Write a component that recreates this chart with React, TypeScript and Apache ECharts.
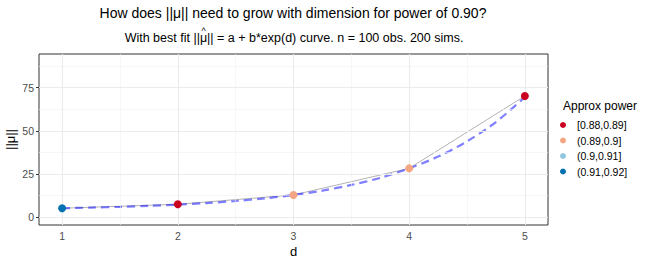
import React, { useEffect, useRef } from "react";
import * as echarts from "echarts";

// ---- data ----
const dims = [1, 2, 3, 4, 5];
const muNorm = [5.2, 7.5, 12.9, 28.3, 70.2];
const powerBin = ["(0.91,0.92]", "[0.88,0.89]", "(0.89,0.9]", "(0.89,0.9]", "[0.88,0.89]"];
const powerLevels = ["[0.88,0.89]", "(0.89,0.9]", "(0.9,0.91]", "(0.91,0.92]"];
const levelColors = ["#CA0020", "#F4A582", "#92C5DE", "#0571B0"];

// best-fit curve a + b*exp(d)
const fitD = [1, 1.25, 1.5, 1.75, 2, 2.25, 2.5, 2.75, 3, 3.25, 3.5, 3.75, 4, 4.25, 4.5, 4.75, 5];
const fitMu = [5.2, 5.6, 6.0, 6.6, 7.3, 8.2, 9.4, 10.9, 12.9, 15.4, 18.7, 22.8, 28.3, 35.1, 43.9, 55.1, 69.5];

// tick values
const xTicks = [1, 2, 3, 4, 5];
const xMinor = [1.5, 2.5, 3.5, 4.5];
const yTicks = [0, 25, 50, 75];
const yMinor = [12.5, 37.5, 62.5, 87.5];

const titleText = "How does ||\u03bc|| need to grow with dimension for power of 0.90?";
const subPrefix = "With best fit ||";
const subMu = "\u03bc";
const subSuffix = "|| = a + b*exp(d) curve. n = 100 obs. 200 sims.";
const hatText = "^";
const legendTitle = "Approx power";

const FONT = "'Liberation Sans', Arial, Helvetica, sans-serif";
const SUB_SIZE = 12.5;

function measure(text: string, size: number): number {
  const c = document.createElement("canvas").getContext("2d");
  if (!c) return text.length * size * 0.5;
  c.font = `${size}px ${FONT}`;
  return c.measureText(text).width;
}

export default function App() {
  const ref = useRef<HTMLDivElement>(null);
  useEffect(() => {
    if (!ref.current) return;
    const chart = echarts.init(ref.current, undefined, { renderer: "svg" });

    const gridLines = [
      ...xMinor.map((v) => ({ xAxis: v, lineStyle: { color: "#F2F2F2", width: 0.6, type: "solid" } })),
      ...yMinor.map((v) => ({ yAxis: v, lineStyle: { color: "#F2F2F2", width: 0.6, type: "solid" } })),
      ...xTicks.map((v) => ({ xAxis: v, lineStyle: { color: "#EBEBEB", width: 1.1, type: "solid" } })),
      ...yTicks.map((v) => ({ yAxis: v, lineStyle: { color: "#EBEBEB", width: 1.1, type: "solid" } })),
    ];

    const scatterSeries = powerLevels.map((lvl, li) => ({
      type: "scatter",
      name: lvl,
      z: 5,
      symbolSize: 8,
      itemStyle: { color: levelColors[li], opacity: 1 },
      data: dims
        .map((d, i) => (powerBin[i] === lvl ? [d, muNorm[i]] : null))
        .filter((p) => p !== null),
    }));

    const txt = (text: string, x: number, y: number, size: number, align = "center") => ({
      type: "text",
      x,
      y,
      silent: true,
      style: {
        text,
        fontSize: size,
        fontFamily: FONT,
        fill: "#000",
        align,
        verticalAlign: "middle",
        textAlign: align,
        textVerticalAlign: "middle",
      },
    });

    // subtitle layout: place the hat over the mu
    const subtitle = subPrefix + subMu + subSuffix;
    const subCenter = 294;
    const fullW = measure(subtitle, SUB_SIZE);
    const hatX = subCenter - fullW / 2 + measure(subPrefix, SUB_SIZE) + measure(subMu, SUB_SIZE) / 2;

    chart.setOption({
      animation: false,
      textStyle: { fontFamily: FONT },
      graphic: [
        txt(titleText, 293, 13, 14),
        txt(subtitle, subCenter, 38, SUB_SIZE),
        txt(hatText, hatX, 31, 9),
        txt(legendTitle, 563, 106, 12, "left"),
      ],
      legend: {
        data: powerLevels,
        orient: "vertical",
        left: 560,
        top: 119,
        padding: 0,
        itemWidth: 18,
        itemHeight: 6,
        itemGap: 3.5,
        icon: "circle",
        selectedMode: false,
        textStyle: { fontSize: 10.5, lineHeight: 12, color: "#000", fontFamily: FONT },
      },
      grid: {
        left: 39,
        top: 54,
        width: 509,
        height: 171,
        show: true,
        borderColor: "#333333",
        borderWidth: 1,
        backgroundColor: "#ffffff",
        containLabel: false,
        outerBoundsMode: "none",
      },
      xAxis: {
        type: "value",
        min: 0.8,
        max: 5.2,
        name: "d",
        nameLocation: "middle",
        nameGap: 20,
        nameMoveOverlap: false,
        nameTextStyle: { fontSize: 13, color: "#000", fontFamily: FONT },
        axisLine: { show: false },
        splitLine: { show: false },
        axisTick: { show: true, length: 3, customValues: xTicks, lineStyle: { color: "#333333" } },
        axisLabel: { customValues: xTicks, fontSize: 10.5, color: "#4D4D4D", margin: 5, fontFamily: FONT },
      },
      yAxis: {
        type: "value",
        min: -4.5,
        max: 94.5,
        name: "||\u03bc||",
        nameLocation: "middle",
        nameRotate: 90,
        nameGap: 22,
        nameMoveOverlap: false,
        nameTextStyle: { fontSize: 13, color: "#000", fontFamily: FONT },
        axisLine: { show: false },
        splitLine: { show: false },
        axisTick: { show: true, length: 3, customValues: yTicks, lineStyle: { color: "#333333" } },
        axisLabel: { customValues: yTicks, fontSize: 10.5, color: "#4D4D4D", margin: 5, fontFamily: FONT },
      },
      series: [
        {
          type: "line",
          name: "gridlines",
          z: 1,
          silent: true,
          data: [],
          markLine: {
            silent: true,
            symbol: ["none", "none"],
            label: { show: false },
            emphasis: { disabled: true },
            data: gridLines,
          },
        },
        {
          type: "line",
          name: "observed",
          z: 2,
          silent: true,
          showSymbol: false,
          symbol: "none",
          lineStyle: { color: "#B3B3B3", width: 1 },
          data: dims.map((d, i) => [d, muNorm[i]]),
        },
        {
          type: "line",
          name: "fit",
          z: 3,
          silent: true,
          showSymbol: false,
          symbol: "none",
          smooth: 0.3,
          lineStyle: { color: "rgba(0,0,255,0.5)", width: 2.2, type: [8, 5] },
          data: fitD.map((d, i) => [d, fitMu[i]]),
        },
        ...scatterSeries,
      ],
    });
    return () => chart.dispose();
  }, []);
  return (
    <div
      ref={ref}
      style={{ position: "fixed", left: 0, top: 0, width: 650, height: 260, background: "#fff" }}
    />
  );
}
